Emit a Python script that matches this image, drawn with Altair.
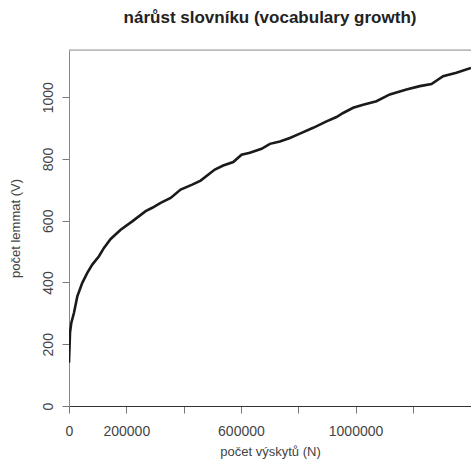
import altair as alt
import pandas as pd

# tokens read (N) and lemma count (V)
n_tokens = [0, 3500, 8000, 17400, 29000, 46400, 63800, 81300, 104600, 122000,
            145400, 180300, 220800, 267500, 290600, 319800, 354700, 389600, 430100,
            459400, 509000, 538200, 573100, 602300, 631400, 672100, 701200, 736000,
            770900, 805800, 852200, 898700, 933600, 956800, 991700, 1026600, 1073000,
            1119700, 1177800, 1224300, 1265000, 1305600, 1352000, 1403000]
v_lemmas = [140, 237, 269, 302, 355, 399, 431, 458, 485, 512,
            541, 571, 598, 631, 642, 658, 674, 701, 717,
            730, 766, 779, 790, 814, 820, 833, 849, 857,
            868, 882, 901, 922, 936, 949, 966, 976, 987,
            1009, 1025, 1036, 1043, 1068, 1079, 1095]

x_ticks = [0, 200000, 400000, 600000, 800000, 1000000, 1200000]
x_shown = [0, 200000, 600000, 1000000]
y_ticks = [0, 200, 400, 600, 800, 1000]

df = pd.DataFrame({"N": n_tokens, "V": v_lemmas})

FONT = "Liberation Sans"
W, H = 402, 356

line = alt.Chart(df).mark_line(color="#1a1a1a", strokeWidth=2.6, clip=True).encode(
    x=alt.X("N:Q",
            scale=alt.Scale(domain=[0, 1403000], nice=False, zero=False),
            axis=alt.Axis(values=x_ticks, format="d",
                          labelExpr="indexof(" + str(x_shown) + ", datum.value) >= 0 ? datum.label : ''",
                          title="počet výskytů (N)", grid=False,
                          domainColor="#333333", domainWidth=1.2,
                          tickColor="#777777", tickSize=7,
                          labelFont=FONT, labelFontSize=14, labelColor="#444444",
                          labelPadding=11, labelOverlap=False, labelFlush=False,
                          titleFont=FONT, titleFontSize=13, titleFontWeight="normal",
                          titleColor="#444444", titleY=49, titleBaseline="alphabetic")),
    y=alt.Y("V:Q",
            scale=alt.Scale(domain=[0, 1153], nice=False, zero=False),
            axis=alt.Axis(values=y_ticks, format="d",
                          title="počet lemmat (V)", grid=False,
                          domainColor="#888888", tickColor="#777777", tickSize=7,
                          labelFont=FONT, labelFontSize=14, labelColor="#444444",
                          labelAngle=-90, labelAlign="center", labelBaseline="alphabetic",
                          labelPadding=10, labelOverlap=False, labelFlush=False,
                          titleFont=FONT, titleFontSize=13, titleFontWeight="normal",
                          titleColor="#444444", titleX=-50, titleBaseline="alphabetic")),
)

top_rule = alt.Chart(pd.DataFrame({"a": [0]})).mark_rule(color="#999999", strokeWidth=1).encode(
    x=alt.value(0), x2=alt.value(W), y=alt.value(0)
)

chart = alt.layer(top_rule, line).properties(
    width=W, height=H,
    title=alt.TitleParams("nárůst slovníku (vocabulary growth)", font=FONT, fontSize=17,
                          fontWeight="bold", color="#222222", anchor="middle", offset=23),
    padding={"left": 69, "top": 50, "right": 0, "bottom": 63},
    autosize=alt.AutoSizeParams(type="none"),
).configure_view(stroke=None).configure(background="white")

chart.save("out.html", embed_options={"renderer": "svg", "actions": False})
